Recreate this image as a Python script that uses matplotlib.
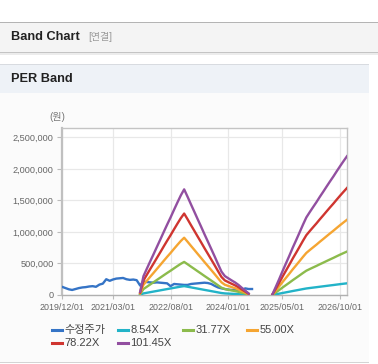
import numpy as np
import pandas as pd
import matplotlib
matplotlib.use("Agg")
import matplotlib.pyplot as plt
from matplotlib.patches import Rectangle
from matplotlib.lines import Line2D
import matplotlib.dates as mdates

plt.rcParams['font.family'] = ['Liberation Sans', 'Noto Sans CJK KR', 'DejaVu Sans']

# ---------------- data ----------------
price_dates = pd.date_range('2019-12-01', '2024-08-01', freq='MS')
price = [130000, 110000, 90000, 80000, 95000, 110000, 120000, 125000, 135000, 140000,
         130000, 165000, 180000, 250000, 225000, 245000, 260000, 265000, 270000, 250000,
         240000, 245000, 235000, 150000, 215000, 205000, 200000, 195000, 200000, 195000,
         190000, 185000, 140000, 175000, 170000, 165000, 160000, 160000, 175000, 180000,
         185000, 190000, 195000, 190000, 175000, 145000, 120000, 105000, 95000, 85000,
         80000, 80000, 78000, 80000, 105000, 95000, 95000]

band_dates = pd.date_range('2021-11-01', '2026-12-01', freq='MS')
eps = [500, 2950,
       4140, 5320, 6360, 7540, 8670, 9860, 10990, 12120, 13310, 14440, 15570, 16510,
       15340, 14130, 13060, 11860, 10720, 9510, 8380, 7200, 6010, 4830, 3650, 2960,
       2610, 2270, 1970, 1580, 1130, 690, 250,
       np.nan, np.nan, np.nan, np.nan, np.nan, np.nan,
       150, 1230, 2460, 3700, 4930, 6110, 7390, 8580, 9760, 10990, 12120,
       12960, 13770, 14490, 15340, 16120, 16950, 17740, 18530, 19370, 20160, 20950, 21690]

multiples = [8.54, 31.77, 55.00, 78.22, 101.45]
band_labels = ['8.54X', '31.77X', '55.00X', '78.22X', '101.45X']
price_label = '수정주가'

tick_dates = ['2019-12-01', '2021-03-01', '2022-08-01', '2024-01-01', '2025-05-01', '2026-10-01']
y_ticks = [0, 500000, 1000000, 1500000, 2000000, 2500000]

colors = ['#3574c6', '#22b3c8', '#8cbb4c', '#f5a532', '#cf3530', '#924fa0']

# ---------------- figure ----------------
W, H = 378, 364
fig = plt.figure(figsize=(W / 100, H / 100), dpi=100)
fig.patch.set_facecolor('white')

def rect(x0, y0, x1, y1, color, z=0):
    fig.add_artist(Rectangle((x0 / W, 1 - y1 / H), (x1 - x0) / W, (y1 - y0) / H,
                             transform=fig.transFigure, facecolor=color,
                             edgecolor='none', zorder=z))

# header bar
rect(0, 21.5, W, 23, '#b4b4b4')
rect(0, 23, W, 52, '#f4f4f4')
rect(0, 52, W, 53, '#c4c4c4')
rect(0, 53, W, 55, '#ececec')
# panel
rect(0, 92, 369, 362, '#fbfbfb')
rect(0, 63.5, 369, 64.5, '#d8dbe0')
rect(0, 64.5, 369, 92.5, '#eef2f7')
rect(0, 362, 369, 363, '#d4d4d4')

fig.text(11 / W, 1 - 37.5 / H, 'Band Chart', fontsize=9.2, fontweight='bold',
         color='#222222', va='center', ha='left')
fig.text(88 / W, 1 - 37.5 / H, '[연결]', fontsize=7.2, color='#9a9a9a',
         va='center', ha='left')
fig.text(11 / W, 1 - 79.5 / H, 'PER Band', fontsize=9.2, fontweight='bold',
         color='#222222', va='center', ha='left')
fig.text(57 / W, 1 - 117 / H, '(원)', fontsize=7.2, color='#777777',
         va='center', ha='center')

# ---------------- axes ----------------
ax = fig.add_axes([62 / W, 1 - 295 / H, (347 - 62) / W, (295 - 128.3) / H])
ax.set_facecolor('white')

ax.plot(price_dates, price, color=colors[0], lw=1.7, label=price_label, zorder=3)
eps_arr = np.array(eps, dtype=float)
for m, lab, c in zip(multiples, band_labels, colors[1:]):
    ax.plot(band_dates, eps_arr * m, color=c, lw=1.7, label=lab, zorder=3)

ax.set_xlim(pd.Timestamp('2019-12-01'), pd.Timestamp('2026-12-01'))
ax.set_ylim(0, 2.643e6)
ax.set_xticks([pd.Timestamp(d) for d in tick_dates])
ax.xaxis.set_major_formatter(mdates.DateFormatter('%Y/%m/%d'))
ax.set_yticks(y_ticks)
ax.set_yticklabels([f'{v:,}' for v in y_ticks])
ax.tick_params(axis='y', labelsize=6.6, labelcolor='#666666', length=3.5,
               color='#bbbbbb', pad=2.5)
ax.tick_params(axis='x', labelsize=6.4, labelcolor='#666666', length=3,
               color='#bbbbbb', pad=3)
ax.grid(True, color='#e8e8e8', lw=0.9, zorder=0)
ax.set_axisbelow(True)
for s in ['top', 'right']:
    ax.spines[s].set_color('#c4c4c4')
    ax.spines[s].set_linewidth(1.0)
ax.spines['left'].set_color('#c0c0c0')
ax.spines['left'].set_linewidth(1.6)
ax.spines['bottom'].set_color('#b0b0b0')
ax.spines['bottom'].set_linewidth(1.0)

# ---------------- legend (row-major layout) ----------------
labels = [price_label] + band_labels
col_x = [52, 118, 183, 247]
row_y = [330, 343]
for i, (lab, c) in enumerate(zip(labels, colors)):
    r, k = divmod(i, 4)
    x0, y0 = col_x[k], row_y[r]
    fig.add_artist(Line2D([x0 / W, (x0 + 10) / W], [1 - y0 / H, 1 - y0 / H],
                          transform=fig.transFigure, color=c, lw=2.2))
    fig.text((x0 + 12.5) / W, 1 - y0 / H, lab, fontsize=8, color='#444444',
             va='center', ha='left')

fig.savefig('out.png', dpi=100, facecolor='white')
